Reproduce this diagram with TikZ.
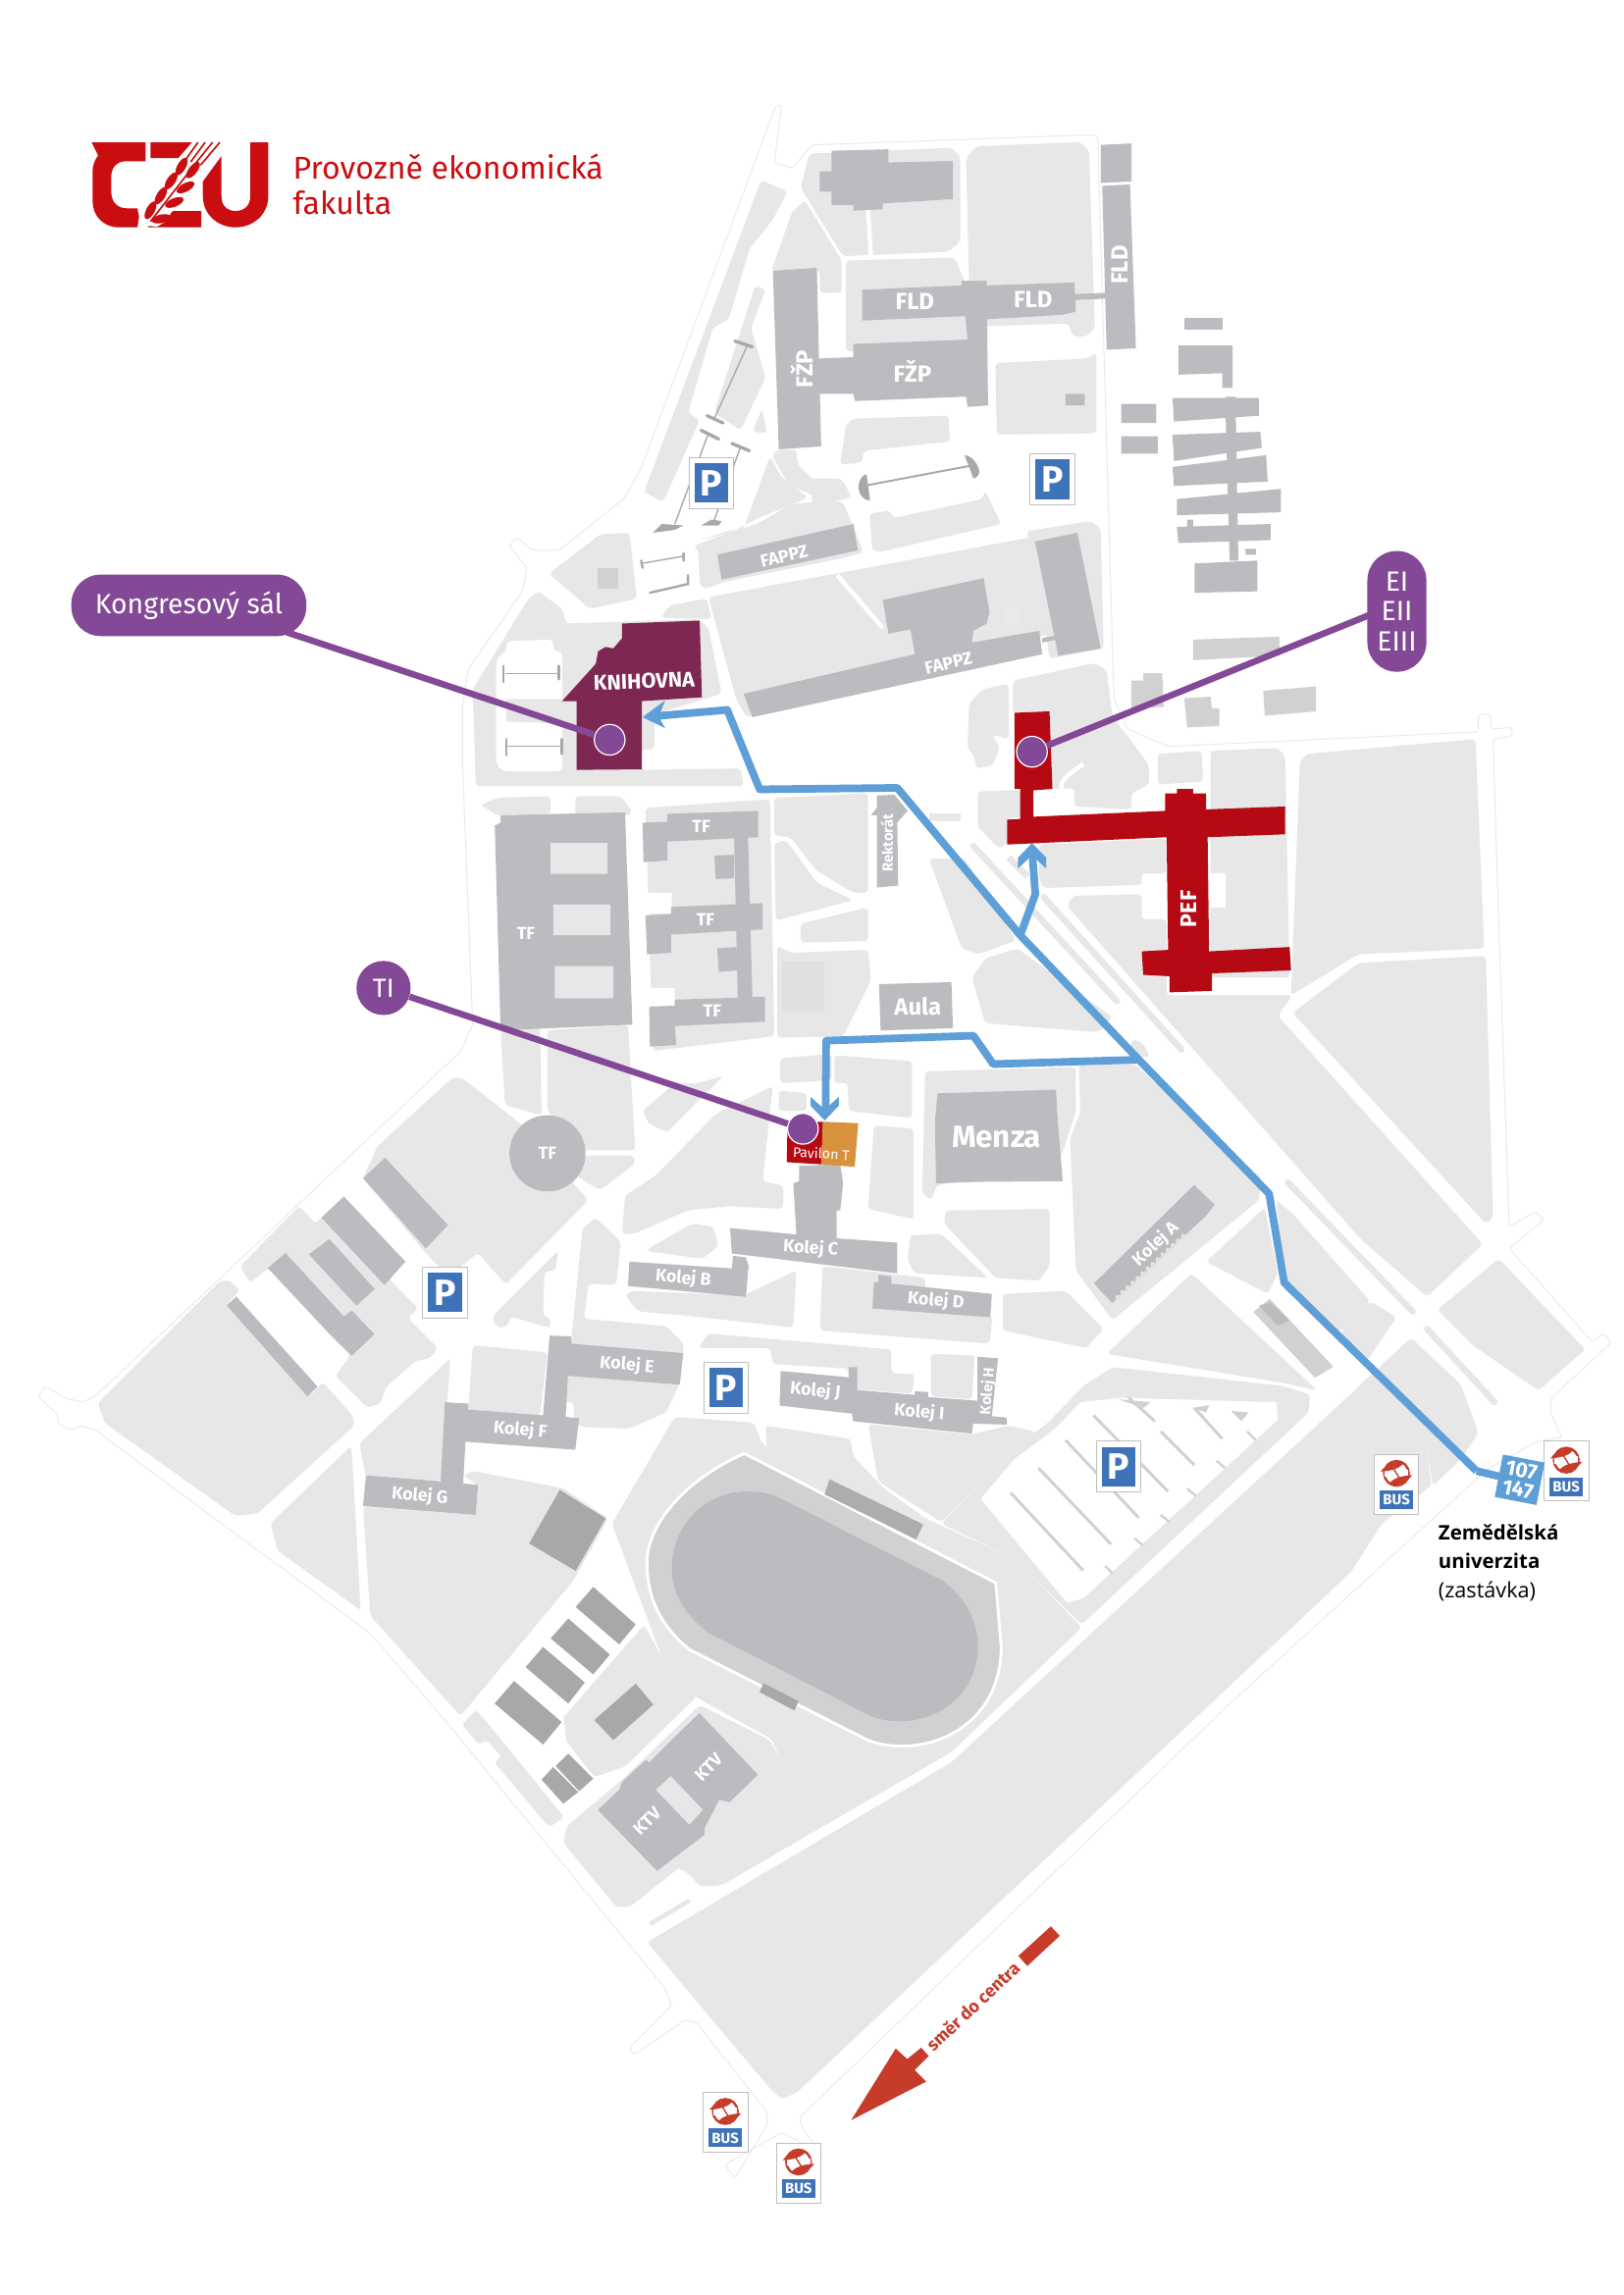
\documentclass[tikz,border=0pt]{standalone}
\usepackage{fontspec}
\setmainfont{Fira Sans}
\newfontfamily\labelfont{Open Sans}
\definecolor{gndc}{HTML}{E6E7E6}
\definecolor{bldc}{HTML}{BBBCBF}
\definecolor{darkb}{HTML}{A7A8AA}
\definecolor{lightb}{HTML}{D0D1D0}
\definecolor{czu}{HTML}{C90D10}
\definecolor{pefred}{HTML}{B50A14}
\definecolor{knih}{HTML}{7E2752}
\definecolor{purp}{HTML}{834896}
\definecolor{route}{HTML}{5E9FD8}
\definecolor{pblue}{HTML}{3F73B9}
\definecolor{busred}{HTML}{C63B2A}
\definecolor{orng}{HTML}{D8923E}
\tikzset{
 gnd/.style={fill=gndc,rounded corners=2.5pt},
 bld/.style={fill=bldc},
 dark/.style={fill=darkb},
 lite/.style={fill=lightb},
 road/.style={draw=white,line width=3pt},
 bar/.style={draw=darkb,line width=2.2pt,line cap=round},
 pline/.style={draw=darkb,line width=.9pt},
 lot/.style={draw=lightb,line width=2pt},
 lab/.style={text=white,font=\bfseries\fontsize{12}{12}\selectfont,inner sep=0pt},
 purpline/.style={draw=purp,line width=4.4pt},
 routeline/.style={draw=route,line width=5.2pt,line join=round},
 spot/.style={circle,fill=purp,draw=white,line width=.8pt,minimum size=21pt,inner sep=0pt},
 pillbox/.style={fill=purp,text=white,rounded corners=18pt,inner sep=0pt,align=center},
 signbox/.style={fill=white,draw=black!25,line width=.5pt,inner sep=0pt},
}
\newcommand\G[1]{\fill[gnd] #1 -- cycle;}
\newcommand\B[1]{\fill[bld] #1 -- cycle;}
\newcommand\Parking[2]{%
 \node[signbox,minimum width=30.5pt,minimum height=35pt] (#1o) at (#2) {};
 \node[fill=pblue,text=white,minimum width=23pt,minimum height=27pt,inner sep=0pt,font=\bfseries\fontsize{25}{25}\selectfont] (#1) at (#2) {P};}
\newcommand\Bus[2]{%
 \node[signbox,minimum width=30.5pt,minimum height=41pt] (#1) at (#2) {};
 \begin{scope}[shift={(#2)},yshift=7.4pt]
  \draw[busred,line width=1.6pt] (0,0) circle (8.4);
  \fill[white] (-8,-2.6)--(8,-2.6)--(8,2.6)--(-8,2.6)--cycle;
  \fill[busred] (-10.8,-1.2) .. controls (-7,-6.5) and (-1,-8.6) .. (5,-7.6) .. controls (3.5,-3.8) and (-3,-1.6) .. cycle;
  \fill[busred] (10.8,1.2) .. controls (7,6.5) and (1,8.6) .. (-5,7.6) .. controls (-3.5,3.8) and (3,1.6) .. cycle;
  \draw[busred,line width=.9pt] (-2.2,-3.5)--(2.2,3.5);
 \end{scope}
 \node[fill=pblue,text=white,minimum width=23pt,minimum height=12.7pt,inner sep=0pt,font=\bfseries\fontsize{10}{10}\selectfont] (#1t) at ([yshift=-10.7pt]#1.center) {BUS};}
\begin{document}
\begin{tikzpicture}[x=1pt,y=-1pt]
\useasboundingbox (0,0) rectangle (1108.8,1568);
\fill[white] (0,0) rectangle (1108.8,1568);
% campus outline
\path[fill=white,draw=black!9,line width=.6pt,rounded corners=2pt] (530,72)--(534,72)--(529,111)--(541,115)--(555,99)--(748,92)--(750,95)--(761,477)--(770,498)--(798,510)--(1010,500)--(1010,488)--(1018,488)--(1019,498)--(1033,497)--(1033,503)--(1020,505)--(1023,603)--(1031,838)--(1049,828)--(1055,833)--(1031,853)--(1088,917)--(1095,911)--(1101,917)--(1060,955)--(1059,964)--(1067,982)--(1050,985)--(1017,1003)--(838,1166)--(546,1447)--(548,1454)--(562,1472)--(534,1457)--(495,1479)--(502,1488)--(524,1452)--(524,1443)--(476,1382)--(468,1380)--(433,1404)--(430,1399)--(459,1370)--(454,1358)--(302,1173)--(253,1116)--(65,977)--(55,974)--(48,977)--(39,972)--(40,967)--(26,954)--(31,947)--(44,955)--(56,958)--(65,954)--(315,718)--(321,704)--(323,701)--(316,523)--(316,481)--(320,457)--(357,404)--(360,388)--(348,373)--(353,367)--(364,376)--(382,376)--(426,341)--(438,320)--cycle;
% ---- ground, north
\G{(520,123)--(538,131)--(528,150)--(512,170)--(498,218)--(487,224)--(470,282)--(478,287)--(453,343)--(440,336)}
\G{(516,195)--(523,198)--(513,224)--(523,258)--(506,294)--(488,282)}
\G{(514,295)--(520.6,279.4)--(524,296)}
\G{(526,312)--(534,326)--(552,340)--(518,354)--(498,364)--(478,369)--(500,362)--(508,361)}
\G{(531.8,307.3)--(544,307.3)--(545,317.4)--(556.4,328.6)--(572,328)--(572,339)--(556.4,339)--(538.5,330.8)--(527.3,310.7)}
\G{(473.7,373.2)--(496,364.5)--(518,357.6)--(540.8,344.2)--(572,342)--(576.5,344)--(590,377.7)--(572,382)--(493.8,397.8)--(482.6,402.3)--(478,400)--(477,375.5)}
\G{(547,128)--(553,105)--(650,101)--(656,107)--(656,165)--(648,172)--(576,175)--(556,143)}
\G{(660,108)--(667,100)--(738,97)--(744,103)--(748,224)--(742,230)--(733,230)--(730,221)--(672,223)--(662,192)}
\G{(578,178)--(652,176)--(659,192)--(665,240)--(578,240)}
\G{(527,185)--(541,145)--(550,137)--(575,178)--(575,200)--(560,200)--(560,185)}
\G{(680,248)--(742,245)--(749,241)--(749,296)--(681,297)}
\G{(583,286)--(648,284)--(649,301.7)--(590,308)--(589,316)--(574,317.4)--(578,290)}
\G{(594,351)--(607.8,348.7)--(610,354)--(671,341)--(673,335)--(684,358)--(602,377)--(596,376)}
\G{(554,327)--(575,327)--(582,340)--(555,345)}
\G{(484,408)--(705,367)--(722,432)--(510,490)--(503,478)}
\G{(451,422)--(458,413.5)--(483,409)--(486,423)}
\G{(701,363)--(745,356)--(752,361)--(754,443)--(717,450)--(706,375)}
\G{(692,465)--(748,453)--(756,458)--(760,490)--(772,505)--(785,523)--(785,536)--(773,542)--(773,553)--(734,551)--(734,538.5)--(719,539)--(717,486)--(692,487)}
\G{(662,481)--(671,471)--(689,467)--(689,505)--(678,502)--(683,511)--(678,523)--(667,525)--(665,515)--(661,512)}
\G{(791,515)--(821,513)--(822,534)--(791,536)}
\G{(827,513)--(873,511)--(878,517)--(881,668)--(827,668)}
\G{(888,520)--(893,515)--(1008,505)--(1014,648)--(928,652)--(882,680)}
\G{(883,692)--(928,658)--(1015,653)--(1020,832)--(1015,836)}
\G{(733,612)--(780,611)--(780,628)--(797,628)--(797,680)--(883,680)--(873,694)--(1013,850)--(975,886)--(930,847)--(729,619)}
\G{(982,895)--(1024,860)--(1083,922)--(1051,950)--(1006,919)}
\G{(872,820)--(883,829)--(936,889)--(916,910)--(877,874)}
\G{(916,910)--(936,889)--(954,900)--(933,931)}
\G{(926,949)--(964,914)--(998,946)--(1010,979)--(997,998)--(979,1015)--(974,985)}
\draw[gndc,line width=4.4pt,line cap=round] (665,578)--(763,684) (713,613)--(807,717) (880,808)--(965,896) (975,908)--(1021,958);
\draw[gndc,line width=4.4pt] (689,586)--(702,599);
\G{(634.7,586.6)--(659,586.6)--(694,642.5)--(668.2,652)--(657,648)}
\G{(664,668)--(673,655)--(695,648)--(760,695)--(752,704)--(746,705)--(673,699)}
\G{(710,577)--(796.7,573)--(796.7,596.7)--(780,596.7)--(780,604.5)--(712.9,606.7)--(709.5,599)}
\G{(668,540.8)--(697,539.7)--(697,558.7)--(688,558.7)--(688,576)--(682.7,580)--(668,565)}
\G{(773,710)--(780,712)--(786,722)--(773,722)}
\G{(529,545)--(593,542)--(593,610)--(583,610)--(558,595)--(540,572)--(529,571)}
\G{(529,576)--(537,574)--(558,603)--(583,615)--(530,629)}
\G{(547,631)--(593,620)--(593,643)--(547,644)}
\G{(531,646)--(540,651)--(593,649)--(595,670)--(576,708)--(531,709)}
\fill[black!12] (534,657) rectangle (563,691);
\fill[gndc] (634.7,556) rectangle (656,561);
% knihovna ground
\G{(325,537)--(323,471)--(361,409)--(368,404)--(384,416)--(387,426)--(477,423)--(484,429)--(493,474)--(447,488)--(447,512)--(438,512)--(438,526)--(506,525)--(508,537)}
\fill[white,rounded corners=3pt] (346,438)--(378,437)--(378,445)--(384,445)--(384,527)--(343,527)--(339,522)--(339,450)--(346,445)--cycle;
\fill[gndc] (346,477.5)--(384,477.5)--(384,494.5)--(346,493)--cycle;
\G{(375,392)--(410,365)--(430,364)--(435,409)--(403,416)}
\fill[lite] (408,388) rectangle (422,402);
% TF area
\G{(342,704)--(369,702)--(370,762)--(345,755)}
\G{(374,704)--(429,700)--(434,786)--(399,786)--(374,759)}
\G{(328,550)--(340,545)--(376,544)--(376,556)--(340,557)}
\G{(393,544)--(424,544)--(431,553)--(431,557)--(393,557)}
\G{(441,552)--(526,546)--(529,708)--(446,718)}
\fill[white] (441,610) rectangle (459,624) (443,675) rectangle (461,687);
% SW
\G{(258,783)--(309.5,736)--(316.4,737)--(357,769)--(402,820)--(345.4,877.6)--(326.6,856)--(306,872)--(290,855)--(248,805)}
\G{(164,865)--(204.5,824)--(215.5,836)--(235,817)--(267,875)--(285.6,894)--(278.7,900.5)--(299,921)--(294,928)--(284,929.6)--(263,948.4)--(260,958.7)--(251.4,962)--(229,940)--(239.4,926)--(225.7,912.5)--(183,866.4)--(171,876.6)}
\G{(66.7,958.7)--(150.5,875)--(157.3,875)--(164,881.7)--(155.6,890)--(212,953.6)--(220.6,944.3)--(241,967.2)--(242,974)--(176,1034)--(160.7,1035.6)--(71.8,972.4)}
\G{(184.7,1040.8)--(240,987.8)--(247,1100.6)--(189.8,1059.6)}
\G{(245.6,986)--(307.8,928)--(305.4,958.7)--(301,1011.7)--(249.7,1008.3)}
\G{(248,1029.5)--(325,1035)--(326.6,1015)--(316.4,1008)--(323,1005)--(384.8,1016.8)--(415.5,1037.4)--(391.6,1080)--(314.6,1172.4)--(253,1104)}
\G{(336.9,898.8)--(381.3,854.4)--(379.6,868)--(372,868.7)--(371,899)--(376,900.5)--(376,907.4)--(348.8,899.5)--(347,905.7)--(342,907.4)--(337,904)}
\G{(400,789.4)--(432.6,789.4)--(434.3,794.5)--(410,813.3)--(393.3,803)}
\G{(323,919)--(374,924)--(369,967)--(320,963)}
\G{(439,759)--(461,740)--(477,740)--(494.4,735)--(455.5,773.6)--(443,767.4)}
% centre south
\G{(427,817)--(448,803)--(489,761)--(528,742)--(521,807)--(535,810)--(535,826)--(498,824)--(470,827)--(433,843)--(425,843)}
\G{(443,853)--(473,836)--(487,838)--(491,851)--(480,860)--(443,855)}
\G{(431,882)--(508,885)--(544,868)--(542,907)--(470,899)--(436,896)--(427,885)}
\G{(562,865)--(632,873)--(632,896)--(678,899)--(676,918)--(560,909)}
\G{(398,839)--(407,832)--(424,848)--(421,878)--(402,877)--(399,901)--(455,906)--(467,918)--(467,926)--(390,918)}
\G{(477,921)--(484,911)--(609,922)--(609,938)--(625,939)--(623,952)--(581,949)--(579,935)--(528,932)--(526,921)}
\G{(636,925)--(666,926)--(664,956)--(636,954)}
\G{(388,924)--(466,930)--(464,946)--(455,965)--(430,976)--(397,975)--(392,970)--(392,958)--(386,958)}
\G{(685,884)--(728,882)--(754,908)--(742,921)--(685,909)}
\G{(597,769)--(624,771)--(624,833)--(593,826)}
\G{(622,844)--(643,843)--(675,873)--(625,870)--(620,861)}
\G{(646,827)--(717,826)--(717,865)--(710,875)--(680,873)--(645,836)}
\G{(632,732)--(735,729)--(735,760)--(725,790)--(640,810)--(636,820)--(630,815)}
\G{(737,727)--(775,727)--(862,805)--(860,820)--(760,902)--(735,868)--(731,778)--(738,760)}
\G{(570,721)--(623,725)--(623,764)--(580,759)--(579,740)--(570,740)}
\G{(533,723)--(568,720)--(568,738)--(533,740)}
\G{(532,745)--(551,747)--(551,759)--(532,759)}
\G{(756,925)--(814,870)--(900,950)--(878,945)}
\G{(824,862)--(864,825)--(873,870)--(866,884)}
% stadium + south
\G{(418,1041)--(461,968)--(515,972)--(521,987)--(693,1065)--(707,1079)--(739,1112)--(650,1197)--(493,1288)--(479,1289)--(469,1279)--(462,1276)--(491,1248)--(527,1214)--(534,1204)--(527,1188)--(478,1161)--(466,1152)--(452,1132)}
\G{(523,974)--(581,983)--(583,995)--(604,1017)--(640,1043)--(634,1048)--(524,990)}
\G{(593,973)--(664,980)--(689,974)--(707,978)--(643,1040)--(600,1012)}
\G{(643,1041)--(703,981)--(715,973)--(740,947)--(760,934)--(877,947)--(895,953)--(894,965)--(739,1110)--(693,1065)}
\fill[white] (670,1024)--(693,997)--(721,976)--(738,958)--(766,955)--(872,958)--(873,970)--(740,1092)--(729,1095)--cycle;
\G{(384,1173)--(440,1110)--(452,1132)--(476,1159)--(427,1207)--(406,1214)--(385,1190)}
\G{(315.4,1178.3)--(325.6,1168)--(385.5,1241.6)--(375.2,1248.4)--(337.6,1204)--(342.7,1200.5)--(332.5,1188.6)--(327.4,1192)}
\G{(385,1259)--(387,1248)--(425,1216)--(478,1165)--(526,1189)--(534,1204)--(527,1214)--(469,1272)--(430,1303)--(421,1303)}
\G{(442,1327)--(650,1204)--(932,944)--(974,985)--(978,1015)--(944,1041)--(923,1074)--(544,1430)--(534,1434)--(527,1428)}
\draw[white,line width=5pt] (442,1300)--(470,1283);
\draw[gndc,line width=3pt,line cap=round] (445,1314)--(470,1299);
% white roads on ground
\draw[road] (593,143)--(595,175);
\draw[road] (572,393)--(603,429);
\draw[road] (672,223)--(672,232);
\draw[road] (420,1030)--(385,1015);
\draw[road] (242,986)--(248,1103);
\draw[road] (725,539) .. controls (724,532) and (732,528) .. (740,522);
\fill[white] (825.7,596.7) rectangle (837,620);
% ---- buildings
\B{(560,117)--(568,117)--(568,103)--(607,102)--(607,111)--(651,110)--(651,136)--(603,139)--(603,143)--(583,144)--(583,140)--(568,140)--(568,131)--(560,131)}
\B{(528,185)--(558,183)--(561,305)--(532,307)}
\B{(558,245)--(583,244)--(583,235)--(661,232)--(657,192)--(674,192)--(675,277)--(661,278)--(660,271)--(584,274)--(583,269)--(554,269)}
\B{(589,198)--(657,195)--(657,192)--(674,192)--(674,195)--(734,193)--(735,213)--(726,215)--(694,217)--(673,218)--(659,216)--(589,219)}
\B{(734,201)--(756,200)--(756,204)--(734,205)}
\B{(752,99)--(773,98)--(773,124)--(752,125)}
\B{(753,127)--(772,126)--(776,238)--(756,239)}
\fill[bld] (809,217) rectangle (835,225);
\B{(805,236)--(842,236)--(842,265)--(835,265)--(835,255)--(805,256)}
\fill[bld] (766,276) rectangle (790,289) (766,298) rectangle (791,310);
\B{(837,271)--(844,271)--(846,383)--(840,383)}
\B{(801,272)--(860,272)--(860,284)--(802,288)}
\B{(801,297)--(861,295)--(862,306)--(802,315)}
\B{(801,319)--(865,311)--(866,329)--(802,332)}
\B{(804,341)--(875,334)--(875,350)--(804,352)}
\B{(804,360)--(868,358)--(868,369)--(805,371)}
\B{(816,385)--(859,383)--(859,404)--(816,405)}
\fill[bld] (811,355) rectangle (815,360) (851,375) rectangle (858,379) (728,269) rectangle (741,277);
\fill[lite] (815,437)--(874,435)--(874,448)--(815,451)--cycle;
\fill[lite] (773,465)--(781,465)--(781,460)--(794,460)--(795,483)--(773,484)--cycle;
\fill[lite] (809,477)--(827,476)--(828,484)--(833,484)--(833,496)--(811,497)--cycle;
\fill[lite] (863,472)--(899,469)--(899,486)--(864,489)--cycle;
\B{(490,379)--(583,358)--(586,376)--(493,396)}
\B{(603,410)--(672,395)--(676,418)--(674,426)--(665,431)--(664,439)--(710,431)--(712,447)--(514,490)--(508,474)--(625,447)--(622,430)--(607,433)}
\B{(707,370)--(736,364)--(752,443)--(723,448)}
\B{(712,436)--(722,434)--(722,437)--(712,439)}
\fill[black!8] (692,421) circle (5.5);
% parking details north
\draw[pline] (511,235)--(488,286) (484,296)--(461,358) (506,305)--(487,358) (438,385)--(467,380);
\draw[bar] (502,233)--(514,237) (483,284)--(494,289) (479,294)--(491,300) (500,303)--(512,308);
\draw[bar,line width=1.6pt] (438,383)--(439,388) (467,378)--(467,383) (444,405)--(470,399)--(470,393);
\fill[darkb] (446,364)--(452,358)--(467,359)--(461,362)--cycle (479,359)--(486,355)--(493,356)--(491,359)--cycle;
\draw[pline] (345,460)--(382,460) (346,510)--(384,510);
\draw[bar,line width=1.8pt] (344,455)--(344,466) (382,455)--(382,464) (346,505)--(346,516) (384,505)--(384,515);
\draw[pline,line width=1.3pt] (590,332)--(664,318);
\fill[darkb] (586.6,334) .. controls (586,328) and (590,324) .. (592,324)--(594.4,342) .. controls (590,342) and (587,338) .. (586.6,334)--cycle;
\fill[darkb] (659,311) .. controls (664,311) and (669,318) .. (669,323) .. controls (668,326) and (666,327) .. (665,327)--cycle;
% TF
\B{(338,564)--(342,562)--(342,557)--(427,555)--(432,700)--(342,704)}
\fill[gndc] (376,576) rectangle (415,597) (378,618) rectangle (417,639) (379,660) rectangle (419,682);
\B{(501.5,571)--(511,571)--(514,682)--(504,682)}
\B{(439,562)--(456,561.5)--(456,556)--(518,554)--(518,572)--(456,575)--(456,588)--(439.6,589)}
\B{(488,584.5)--(501.5,584)--(501.5,600)--(489,600.5)}
\B{(441,625.5)--(458.4,624.5)--(458.4,619.7)--(521,617)--(521,635)--(458.4,638.5)--(458.4,651)--(442,652)}
\B{(490,648)--(503,647)--(504,663)--(491,664)}
\B{(443.5,688)--(461,687)--(461,683)--(522.7,681)--(522.7,698)--(461,701)--(462,714)--(444,715)}
\B{(599,543.5)--(611,543)--(620,554)--(613,562)--(613.6,605)--(599,606.4)--(599,557)--(595,557)--(599,552)}
\B{(600.5,672.4)--(650,671)--(651,702.5)--(601.6,704)}
\B{(640.5,747)--(721.4,744.5)--(722.5,764)--(726,807)--(665.9,807.5)--(639.5,808.5)--(638.7,766.4)}
\fill[bld] (374,788) circle (26);
\B{(546,796.5)--(574,795.5)--(576,808.5)--(574,827)--(571.5,827)--(571.5,846)--(613,849)--(613,870)--(500,856.4)--(498.7,839)--(544,843.4)--(543,825.6)--(542,808.5)--(546,807)}
\B{(597,876)--(600,876)--(600,871)--(609,872)--(609,877)--(677.6,884)--(676.5,900)--(596,894)}
\B{(430,862)--(500,866.6)--(500.7,858)--(509.6,859)--(511.4,865)--(509.6,886)--(429,878.6)}
\B{(250,1008)--(301,1012)--(304,958)--(320,959)--(320,963)--(371,967)--(375.5,912.5)--(390,913)--(390.6,918)--(466.8,924.5)--(464.4,946)--(388,940)--(386.5,968)--(395.7,969)--(393,990.5)--(318,985)--(316.4,1013.5)--(326.6,1014.5)--(325,1035)--(248,1029)}
\B{(533.3,936.7)--(580,941)--(580,934)--(585.6,934)--(585.6,949.7)--(625,953)--(625,950.6)--(634,951)--(634,954.5)--(667.7,957)--(667.7,927)--(681.8,928)--(677.6,967.5)--(687.8,968.6)--(687.8,973.3)--(664.8,972.7)--(664,979.5)--(582.8,971)--(582,965.8)--(532.6,960.3)}
\B{(815.8,809.6)--(829.8,823)--(824,830.5)--(759.9,890.4)--(747.3,876.9)}
\foreach \i in {0,...,13} {\fill[gndc] ({762+3.43*\i},{888.2-3.21*\i}) -- ++(3.43,-3.21) -- ++(-3,-.3) -- cycle;}
\fill[lite] (856.3,896.4)--(867.5,887.4)--(881.5,902.4)--(910.9,933.8)--(898.3,941.3)--cycle;
\fill[bld] (860,892)--(868,890)--(881,902)--(873,906)--cycle;
% SW buildings
\B{(248,805)--(263,791)--(306,837)--(291,853)}
\B{(219.6,832)--(235,817.5)--(277,862)--(262.7,878)}
\B{(211,857)--(225,846.5)--(256,880.7)--(243.5,892)}
\B{(183,866.4)--(195,856)--(235,899.5)--(240.4,895.4)--(255.8,911.5)--(240.4,926.2)--(225.7,911.8)}
\B{(155,892)--(161.4,885.8)--(217,947.4)--(210,954)}
\fill[dark] (382.4,1017.9)--(413.8,1037.4)--(393.3,1073.3)--(361.5,1054.5)--cycle;
\fill[white] (405,1080)--(440,1110)--(385,1173)--(387,1190)--(406,1214)--(386,1234)--(325,1168)--cycle;
\foreach \p in {{(405.3,1084.2)--(434.3,1109.9)--(423,1123.5)--(393.3,1097.9)},{(388.2,1105.8)--(416.6,1130.4)--(405.3,1144)--(376.2,1119.4)},{(371,1125.2)--(399.5,1149.5)--(388.2,1163.9)--(359.1,1139)},{(351.2,1148.5)--(383.7,1176.5)--(371,1191.9)--(337.9,1163.9)},{(434.3,1150.2)--(446.3,1164.6)--(419,1188.9)--(406,1175.2)},{(388.2,1198.1)--(405.3,1215.2)--(395.7,1223.8)--(379.6,1206.6)},{(377.9,1207.3)--(395,1224.4)--(384.8,1232.3)--(370,1215.9)}}
 {\fill[dark] \p -- cycle;}
% KTV
\B{(477.8,1170.4)--(517.8,1212.5)--(498.4,1231.3)--(491.4,1229.6)--(481.3,1249)--(481.3,1253.6)--(448.8,1278.2)--(408.4,1236.5)--(423.1,1222.8)--(424.8,1217.6)--(441.2,1202.3)--(443.6,1204)--(459,1188.6)}
\fill[gndc] (458.3,1213.5)--(480.2,1236.5)--(471,1246.7)--(448,1222.8)--cycle;
% stadium
\path[fill=lightb,draw=white,line width=2pt] (508.5,993)--(680.3,1081.5)--(684,1125) .. controls (684,1170) and (650,1193) .. (616,1193) .. controls (604,1193) and (594,1190) .. (589,1187)--(471,1127) .. controls (450,1110) and (442,1090) .. (442,1068) .. controls (442,1040) and (470,1010) .. (508.5,993)--cycle;
\fill[bld] (510,1019) .. controls (518,1019) and (526,1020) .. (534,1024)--(644,1080) .. controls (660,1092) and (668,1108) .. (668,1124) .. controls (668,1155) and (645,1175) .. (616,1176) .. controls (608,1176) and (602,1175) .. (596,1173)--(483,1115) .. controls (467,1102) and (459,1088) .. (459,1071) .. controls (459,1042) and (482,1019) .. (510,1019)--cycle;
\fill[black!32] (566.7,1010.7)--(630.7,1041.5)--(625.9,1051.8)--(563.3,1021)--cycle;
\fill[dark] (521.6,1150)--(545.5,1162.2)--(542.8,1168.7)--(518.9,1156.1)--cycle;
% parking lot lines
\draw[lot] (747,967)--(798,1019) (728,984)--(778,1037) (709.5,1003)--(759,1055) (690.5,1020)--(740,1073) (771,955)--(789,971) (793,978)--(816,1001) (816,962)--(835,983);
\fill[lightb] (764,956)--(786,958)--(781,962)--cycle (841,964)--(853,965)--(848,971)--cycle (814,962)--(826,960)--(824,965)--cycle;
\draw[lot,line width=1.6pt] (852,978)--(858,984) (831,998)--(837,1003) (811,1017)--(817,1022) (793,1035)--(799,1040) (775,1051)--(781,1056) (755,1070)--(760,1075);
% ---- red/faculty buildings
\fill[pefred] (693,487)--(717,486)--(719,539)--(706,540)--(706,558)--(796,554)--(796,542)--(804,542)--(804,539)--(815,539)--(815,542)--(824,542)--(824,553)--(878,551)--(878,570)--(825,572)--(826,650)--(881,647)--(882,663)--(828,665)--(828,677)--(799,678)--(799,667)--(781,666)--(780,650)--(798,649)--(797,572)--(688,577)--(688,560)--(697,559.5)--(697,539)--(693,539)--cycle;
\fill[knih] (425,426)--(478,424)--(479.5,476.4)--(438.5,479)--(438.5,525.6)--(394,526)--(394,479)--(384,479)--(407,453.6)--(408.6,445)--(413.7,442)--(419,443)--(425,436)--cycle;
\fill[pefred] (538,766.4)--(562.3,766.4)--(561,795.5)--(537.5,794)--cycle;
\fill[orng] (562.3,766.4)--(586.3,767.4)--(583.9,797.2)--(561,795.5)--cycle;
% labels
\node[lab,font=\bfseries\fontsize{16}{16}\selectfont] (l1) at (625,206) {FLD};
\node[lab,font=\bfseries\fontsize{16}{16}\selectfont] (l2) at (705.7,204.5) {FLD};
\node[lab,font=\bfseries\fontsize{16}{16}\selectfont,rotate=90] (l3) at (764.8,181) {FLD};
\node[lab,font=\bfseries\fontsize{16}{16}\selectfont,rotate=90] (l4) at (548,252) {FŽP};
\node[lab,font=\bfseries\fontsize{16}{16}\selectfont] (l5) at (623.4,253.4) {FŽP};
\node[lab,rotate=13] (l6) at (535.7,380) {FAPPZ};
\node[lab,rotate=13] (l7) at (648,453) {FAPPZ};
\node[lab,rotate=2,font=\bfseries\fontsize{14.5}{14.5}\selectfont] (l8) at (440,465.4) {KNIHOVNA};
\node[lab] (l9) at (359.3,637.5) {TF};
\node[lab] (l10) at (479,564.6) {TF};
\node[lab] (l11) at (482,628.2) {TF};
\node[lab] (l12) at (486.6,690.8) {TF};
\node[lab] (l13) at (374,788) {TF};
\node[lab,rotate=90,font=\bfseries\fontsize{10}{10}\selectfont] (l14) at (605.8,576) {Rektorát};
\node[lab,font=\bfseries\fontsize{16}{16}\selectfont] (l15) at (627,687.7) {Aula};
\node[lab,font=\bfseries\fontsize{21}{21}\selectfont] (l16) at (680.8,777) {Menza};
\node[lab,rotate=-4] (l17) at (553.8,853) {Kolej C};
\node[lab,rotate=-5] (l18) at (466.8,873.5) {Kolej B};
\node[lab,rotate=-5] (l19) at (639.4,888.8) {Kolej D};
\node[lab,rotate=43] (l20) at (789.4,850) {Kolej A};
\node[lab,rotate=-5] (l21) at (428.3,932.6) {Kolej E};
\node[lab,rotate=-5] (l22) at (355.4,977) {Kolej F};
\node[lab,rotate=-5] (l23) at (286.8,1022.2) {Kolej G};
\node[lab,rotate=-5] (l24) at (557,950.4) {Kolej J};
\node[lab,rotate=-5] (l25) at (628,965) {Kolej I};
\node[lab,rotate=85,font=\bfseries\fontsize{10}{10}\selectfont] (l26) at (674.8,950.4) {Kolej H};
\node[lab,rotate=45] (l27) at (484,1207.4) {KTV};
\node[lab,rotate=45] (l28) at (442,1244) {KTV};
\node[lab,rotate=90,font=\bfseries\fontsize{15.5}{15.5}\selectfont] (l29) at (812,621) {PEF};
\node[lab,rotate=-3,font=\fontsize{9.5}{9.5}\selectfont] (l30) at (561,788) {Pavilon T};
% signs
\Parking{p1}{486,330}
\Parking{p2}{719,327.5}
\Parking{p3}{304,883}
\Parking{p4}{496,948}
\Parking{p5}{764,1002}
\Bus{b1}{954,1014}
\Bus{b2}{1070,1005}
\Bus{b3}{495.5,1450}
\Bus{b4}{545.5,1484.5}
% routes
\coordinate (r1) at (1008.7,1005);
\coordinate (r2) at (877.3,876.3);
\coordinate (r3) at (867,815.6);
\coordinate (r4) at (778,724);
\coordinate (r5) at (697,639);
\coordinate (r6) at (613,538.3);
\coordinate (r7) at (519,539.3);
\coordinate (r8) at (496.8,485);
\coordinate (r9) at (444,489.6);
\coordinate (r10) at (707.3,611);
\coordinate (r11) at (705.3,584);
\coordinate (r12) at (678.5,727);
\coordinate (r13) at (665,707.6);
\coordinate (r14) at (564.4,711);
\coordinate (r15) at (564,760);
\draw[routeline] (r1)--(r2)--(r3)--(r4)--(r5)--(r6)--(r7)--(r8)--(r9);
\draw[routeline] (r5)--(r10)--(r11);
\draw[routeline] (r4)--(r12)--(r13)--(r14)--(r15);
\fill[route] (439,490)--(454.4,478.5)--(450,489.5)--(454.4,497.5)--cycle;
\fill[route] (705,576)--(714.7,586)--(714.7,593.3)--(705,584.4)--(695.5,593.3)--(695.5,586)--cycle;
\fill[route] (563.4,765.5)--(573,755.5)--(573,749.5)--(563.4,758)--(553.8,749.5)--(553.8,755.5)--cycle;
\coordinate (r16) at (1030,1010);
\draw[routeline] (r1)--(r16);
\node[fill=route,text=white,rotate=-11,minimum width=29pt,minimum height=29.5pt,inner sep=0pt,align=center,font=\bfseries\fontsize{14.5}{13.4}\selectfont] (rbox) at (1038.2,1011) {107\\147};
% callouts
\node[pillbox,minimum width=160.5pt,minimum height=42pt,rounded corners=20pt,font=\fontsize{19}{19}\selectfont] (kong) at (129,413.6) {Kongresový sál};
\node[pillbox,minimum width=40.3pt,minimum height=82.5pt,rounded corners=20pt,font=\fontsize{19}{20.5}\selectfont] (epill) at (954.3,417.7) {EI\\EII\\EIII};
\node[circle,fill=purp,text=white,minimum size=37pt,inner sep=0pt,font=\fontsize{18}{18}\selectfont] (ti) at (262,675) {TI};
\coordinate (k1) at (196,432);
\coordinate (e1) at (936,420);
\node[spot] (s1) at (416.5,505.4) {};
\node[spot] (s2) at (705,513.6) {};
\node[spot] (s3) at (548.5,771.2) {};
\draw[purpline] (k1)--(s1);
\draw[purpline] (e1)--(s2);
\draw[purpline] (ti)--(s3);
% logo
\begin{scope}[shift={(57,90.5)},x=.2235pt,y=-.2235pt]
 \fill[czu] (25,30)--(190,30)--(190,88)--(130,88) .. controls (100,88) and (85,110) .. (85,135)--(85,180) .. controls (85,215) and (105,232) .. (135,232)--(165,232)--(170,258)--(165,290)--(110,290) .. controls (60,290) and (28,255) .. (28,210)--(28,120) .. controls (28,95) and (38,80) .. (45,70)--cycle;
 \fill[czu] (205,30)--(332,30)--(290,78)--(205,78)--cycle;
 \fill[czu] (275,240)--(360,240)--(360,290)--(195,290)--cycle;
 \fill[czu] (510,30)--(565,30)--(565,195) .. controls (565,250) and (520,290) .. (465,290) .. controls (410,290) and (365,250) .. (365,195)--(365,150)--(422,72)--(422,195) .. controls (422,225) and (440,240) .. (465,240) .. controls (490,240) and (510,225) .. (510,195)--cycle;
 \fill[white] (338,30)--(426,30)--(268,245)--(255,270)--(225,288)--(195,285)--(172,258)--(178,232)--cycle;
 \draw[czu,line width=1.1pt] (350,30)--(312,84) (372,30)--(328,90) (395,30)--(342,95) (417,30)--(358,100);
 \draw[czu,line width=1.1pt] (205,272)--(345,92);
 \foreach \a/\b/\r in {205/238/62,237/193/58,268/148/56,300/104/60,238/264/12,278/214/22,312/168/28,335/115/52}
  {\fill[czu,rotate around={\r:(\a,\b)}] (\a,\b) ellipse (30 and 13);}
\end{scope}
\node[anchor=base west,inner sep=0pt,text=czu,font=\fontsize{21.5}{21.5}\selectfont] (t1) at (200,122.4) {Provozně ekonomická};
\node[anchor=base west,inner sep=0pt,text=czu,font=\fontsize{21.5}{21.5}\selectfont] (t2) at (200,146.3) {fakulta};
% stop label
\node[anchor=base west,inner sep=0pt,font=\labelfont\bfseries\fontsize{13.7}{14}\selectfont] (z1) at (982.5,1052) {Zemědělská};
\node[anchor=base west,inner sep=0pt,font=\labelfont\bfseries\fontsize{13.7}{14}\selectfont] (z2) at (982.5,1071.5) {univerzita};
\node[anchor=base west,inner sep=0pt,font=\labelfont\fontsize{14.5}{14}\selectfont] (z3) at (982.5,1091.5) {(zastávka)};
% city arrow
\fill[busred] (581.5,1448.5)--(611.9,1399.6)--(619.8,1406.8)--(629.3,1399)--(634.5,1404.7)--(624.9,1414.3)--(632.7,1422.2)--cycle;
\fill[busred] (717.9,1316.1)--(724,1322.6)--(701.8,1343.2)--(695.7,1336.3)--cycle;
\node[rotate=43,text=busred,inner sep=0pt,font=\bfseries\fontsize{12}{12}\selectfont] (smer) at (664.5,1370.5) {směr do centra};
\end{tikzpicture}
\end{document}
